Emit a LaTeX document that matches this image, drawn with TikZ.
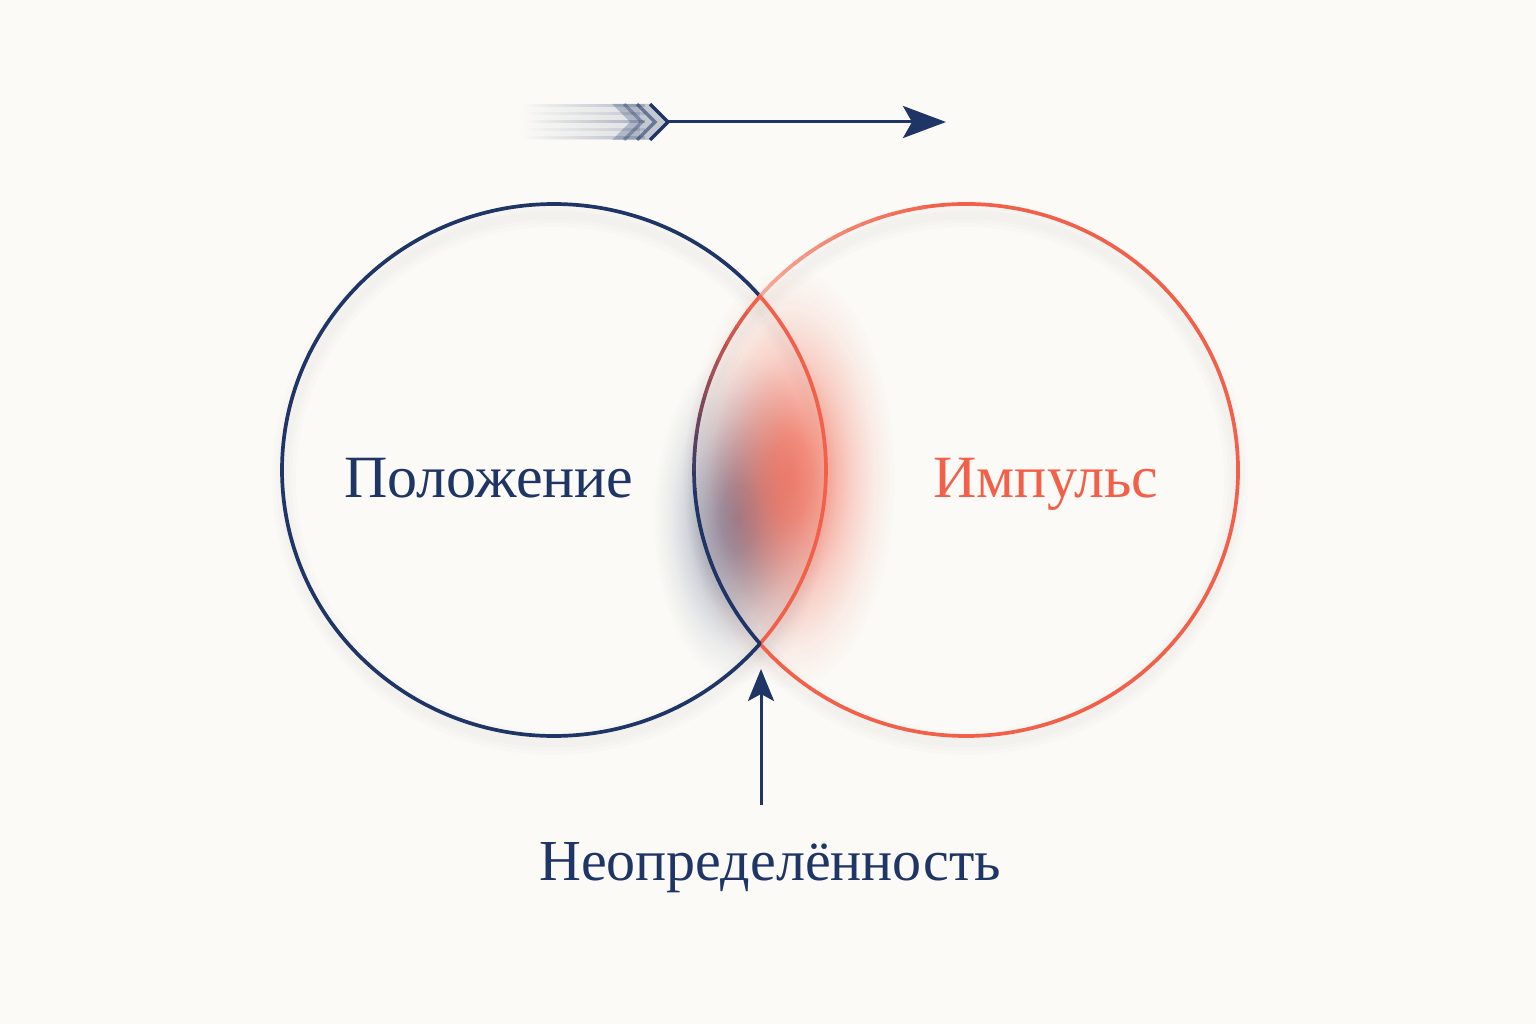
\documentclass[tikz,border=0pt]{standalone}
\usepackage{fontspec}
\setmainfont{Liberation Serif}
\usetikzlibrary{arrows.meta,fadings}
\definecolor{bgc}{HTML}{FBFAF6}
\definecolor{navyc}{HTML}{1E3566}
\definecolor{orangec}{HTML}{F2604A}
\definecolor{salmonc}{HTML}{F6A896}
\pgfdeclareradialshading{glowsh}{\pgfpointorigin}{color(0bp)=(white); color(5bp)=(white!88!black); color(10bp)=(white!60!black); color(15bp)=(white!32!black); color(20bp)=(white!12!black); color(25bp)=(black); color(50bp)=(black)}
\pgfdeclarefading{softglow}{\pgfuseshading{glowsh}}
\tikzfading[name=fadeleft, left color=transparent!100, right color=transparent!30]
\tikzset{
  ring/.style={line width=3.7pt},
  shadowring/.style={line width=#1, black, opacity=0.012},
  labeltext/.style={font=\fontsize{60}{72}\selectfont, inner sep=0pt, anchor=base},
  upar/.style={navyc, line width=3pt, -{Stealth[length=32pt, width=26pt, inset=7pt]}},
  topar/.style={navyc, line width=3pt, -{Stealth[length=43pt, width=32pt, inset=9pt]}},
  chev/.style={navyc, line width=3.5pt, line join=miter},
}
\begin{document}
\begin{tikzpicture}[x=1pt,y=-1pt]
\fill[bgc] (0,0) rectangle (1536,1024);
\useasboundingbox (0,0) rectangle (1536,1024);

\coordinate (cl) at (554,470);
\coordinate (cr) at (966,470);

% soft shadows
\foreach \w in {24pt,16pt,9pt}{
  \draw[shadowring=\w] ([yshift=-9pt]cl) ellipse [x radius=270, y radius=264];
  \draw[shadowring=\w] ([yshift=-9pt]cr) ellipse [x radius=270, y radius=264];
}

% glows in the overlap
\fill[navyc, fill opacity=0.58, path fading=softglow, fit fading=true] (738,518) ellipse [x radius=85, y radius=165];
\fill[orangec, fill opacity=0.78, path fading=softglow, fit fading=true] (790,478) ellipse [x radius=105, y radius=210];

% left circle outer arc (navy)
\draw[ring, navyc] (cl) ++(40.78:272 and 266) arc[start angle=40.78, end angle=319.22, x radius=272, y radius=266];
% left circle inner arc (orange)
\draw[ring, orangec] (cl) ++(-40.78:272 and 266) arc[start angle=-40.78, end angle=40.78, x radius=272, y radius=266];
% right circle outer arc (orange, lighter at top-left)
\draw[ring, orangec] (cr) ++(260:272 and 266) arc[start angle=260, end angle=498.78, x radius=272, y radius=266];
\foreach \i in {0,...,11}{
  \pgfmathsetmacro{\a}{220.78+\i*3.36}
  \pgfmathsetmacro{\p}{100-\i*8}
  \draw[ring, line cap=round, salmonc!\p!orangec] (cr) ++(\a:272 and 266) arc[start angle=\a, delta angle=3.5, x radius=272, y radius=266];
}
% right circle inner arc (navy -> orange gradient upward)
\foreach \i in {0,...,19}{
  \pgfmathsetmacro{\a}{139.22+\i*4.078}
  \pgfmathsetmacro{\p}{\i<9 ? 100 : 100-(\i-8)*9.09}
  \draw[ring, line cap=round, navyc!\p!orangec] (cr) ++(\a:272 and 266) arc[start angle=\a, delta angle=4.2, x radius=272, y radius=266];
}

% labels
\node[labeltext, text=navyc] (pos) at (489,497) {Положение};
\node[labeltext, text=orangec] (mom) at (1046,497) {Импульс};
\node[labeltext, text=navyc, font=\fontsize{58}{70}\selectfont] (unc) at (770,880) {Неопределённость};

% arrow up to the lower intersection
\coordinate (ut) at (761,669);
\coordinate (ub) at (761,805);
\draw[upar] (ub) -- (ut);

% top arrow with motion-blurred fletching
\coordinate (fl) at (668,122);
\coordinate (tip) at (946,122);
\fill[navyc, opacity=0.18, path fading=fadeleft] (520,104) rectangle (640,140);
\foreach \yy/\oo in {106/0.3,114/0.2,122/0.4,130/0.2,138/0.3}{
  \fill[navyc, opacity=\oo, path fading=fadeleft] (525,\yy-1.5) rectangle (645,\yy+1.5);
}
\fill[navyc, opacity=0.25] (612,104) -- (650,104) -- (668,122) -- (650,140) -- (612,140) -- (630,122) -- cycle;
\draw[chev, opacity=0.35] (624,104) -- (642,122) -- (624,140);
\draw[chev, opacity=0.55] (637,104) -- (655,122) -- (637,140);
\draw[chev] (650,104) -- (668,122) -- (650,140);
\draw[topar] (fl) -- (tip);
\end{tikzpicture}
\end{document}
